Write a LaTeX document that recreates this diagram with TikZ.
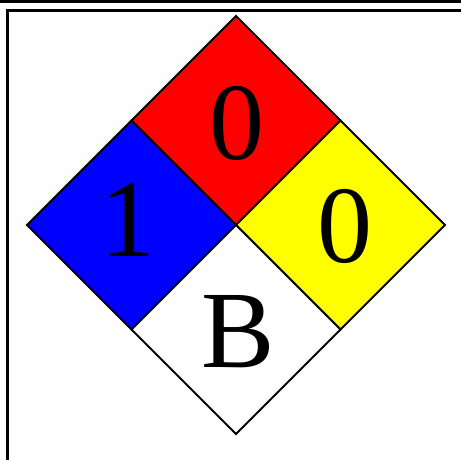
\documentclass[tikz,border=0pt]{standalone}
\usepackage{fontspec}
\newfontfamily\signfont{Liberation Serif}
\usetikzlibrary{positioning,calc}
\definecolor{health}{RGB}{0,0,255}
\definecolor{fire}{RGB}{255,0,0}
\definecolor{react}{RGB}{255,255,0}

\begin{document}
\begin{tikzpicture}[x=1pt,y=-1pt,
  quad/.style={draw=black,line width=1.8pt,line join=miter},
  rating/.style={font=\signfont\fontsize{110}{110}\selectfont,inner sep=0pt}]
\useasboundingbox (0,0) rectangle (461,460);
% frame
\draw[line width=3pt] (0,1.2) -- (461,1.2);
\draw[line width=3pt] (461,11) -- (7,11) -- (7,460);
% diamond corners
\coordinate (top) at (236,16);
\coordinate (left) at (27,225);
\coordinate (right) at (445,225);
\coordinate (bottom) at (236,434);
\coordinate (mid) at (236,225);
\coordinate (tl) at ($(top)!0.5!(left)$);
\coordinate (tr) at ($(top)!0.5!(right)$);
\coordinate (bl) at ($(bottom)!0.5!(left)$);
\coordinate (br) at ($(bottom)!0.5!(right)$);
\filldraw[quad,fill=fire] (top) -- (tr) -- (mid) -- (tl) -- cycle;
\filldraw[quad,fill=health] (tl) -- (mid) -- (bl) -- (left) -- cycle;
\filldraw[quad,fill=react] (tr) -- (right) -- (br) -- (mid) -- cycle;
\filldraw[quad,fill=white] (mid) -- (br) -- (bottom) -- (bl) -- cycle;
% ratings
\node[rating] (flam) at (236.5,123) {0};
\node[rating] (hlth) at (128,220) {1};
\node[rating] (inst) at (345,226.5) {0};
\node[rating] (spec) at (238,332) {B};
\end{tikzpicture}
\end{document}
